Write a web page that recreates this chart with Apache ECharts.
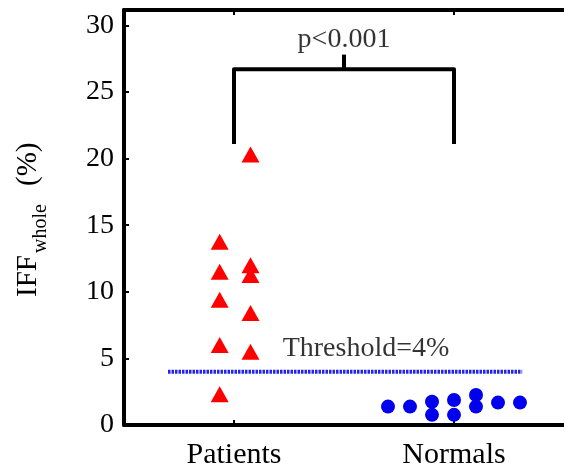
<!DOCTYPE html>
<html>
<head>
<meta charset="utf-8">
<style>
  html, body { margin: 0; padding: 0; background: #fff; }
  #main { width: 564px; height: 470px; }
</style>
<script src="https://cdn.jsdelivr.net/npm/echarts@6/dist/echarts.min.js"></script>
</head>
<body>
<div id="main"></div>
<script>
// groups on the x axis (1 = Patients, 2 = Normals)
var groups = ['Patients', 'Normals'];
var yTicks = [0, 5, 10, 15, 20, 25, 30];

// patients, two jittered columns
var patientsX = [0.935, 0.935, 0.935, 0.935, 0.935, 1.075, 1.075, 1.075, 1.075, 1.075];
var patientsY = [13.75, 11.5, 9.4, 6.0, 2.3, 20.3, 12.0, 11.25, 8.4, 5.5];

// normals
var normalsX = [1.7, 1.8, 1.9, 1.9, 2.0, 2.0, 2.1, 2.1, 2.2, 2.3];
var normalsY = [1.38, 1.38, 1.75, 0.76, 1.88, 0.76, 2.25, 1.38, 1.68, 1.68];

// threshold line (4%)
var thresholdX = [0.7, 2.31];
var thresholdVal = 4;

// significance bracket
var bracketX = [1, 1, 2, 2];
var bracketY = [21.1, 26.7, 26.7, 21.1];
var bracketTickX = [1.5, 1.5];
var bracketTickY = [26.7, 27.8];

var serif = '"Liberation Serif", "Times New Roman", serif';

function zip(xs, ys) {
  return xs.map(function(x, i) { return [x, ys[i]]; });
}

var chart = echarts.init(document.getElementById('main'));

var option = {
  animation: false,
  backgroundColor: '#fff',
  grid: { left: 124, top: 10, width: 448, height: 418 },
  xAxis: [{
    type: 'value',
    min: 0.5,
    max: 2.5,
    position: 'bottom',
    splitLine: { show: false },
    axisLine: { lineStyle: { color: '#000', width: 4 } },
    axisTick: { inside: true, length: 5, lineStyle: { color: '#000', width: 2 }, customValues: [1, 2] },
    axisLabel: {
      customValues: [1, 2],
      formatter: function(v) { return groups[Math.round(v) - 1] || ''; },
      color: '#000',
      fontFamily: serif,
      fontSize: 30,
      margin: 15
    }
  }, {
    type: 'value',
    min: 0.5,
    max: 2.5,
    position: 'top',
    splitLine: { show: false },
    axisLine: { lineStyle: { color: '#000', width: 4 } },
    axisTick: { inside: true, length: 5, lineStyle: { color: '#000', width: 2 }, customValues: [1, 2] },
    axisLabel: { show: false }
  }],
  yAxis: {
    type: 'value',
    min: 0,
    max: 31.15,
    splitLine: { show: false },
    axisLine: { lineStyle: { color: '#000', width: 4 } },
    axisTick: { inside: true, length: 5, lineStyle: { color: '#000', width: 2 }, customValues: yTicks },
    axisLabel: {
      customValues: yTicks,
      color: '#000',
      fontFamily: serif,
      fontSize: 28,
      margin: 10
    }
  },
  // y axis title with subscript
  graphic: [{
    type: 'group',
    x: 28,
    y: 297,
    rotation: Math.PI / 2,
    children: [
      { type: 'text', x: 0, y: 0, style: { text: 'IFF', font: '29px ' + serif, fill: '#000', textVerticalAlign: 'middle' } },
      { type: 'text', x: 44, y: 13, style: { text: 'whole', font: '20px ' + serif, fill: '#000', textVerticalAlign: 'middle' } },
      { type: 'text', x: 111, y: 0, style: { text: '(%)', font: '29px ' + serif, fill: '#000', textVerticalAlign: 'middle' } }
    ]
  }],
  series: [{
    name: 'Threshold',
    type: 'line',
    data: zip(thresholdX, [thresholdVal, thresholdVal]),
    symbol: 'none',
    lineStyle: { color: '#2525e8', width: 4, type: [2.5, 1] },
    z: 1
  }, {
    name: 'Patients',
    type: 'scatter',
    data: zip(patientsX, patientsY),
    symbol: 'triangle',
    symbolSize: [18, 16],
    itemStyle: { color: '#ff0000', opacity: 1 },
    z: 3
  }, {
    name: 'Normals',
    type: 'scatter',
    data: zip(normalsX, normalsY),
    symbol: 'circle',
    symbolSize: 14,
    itemStyle: { color: '#0000ee', opacity: 1 },
    z: 3
  }, {
    name: 'bracket',
    type: 'line',
    data: zip(bracketX, bracketY),
    symbol: 'none',
    lineStyle: { color: '#000', width: 4, join: 'round' },
    z: 2
  }, {
    name: 'bracketTick',
    type: 'line',
    data: zip(bracketTickX, bracketTickY),
    symbol: 'none',
    lineStyle: { color: '#000', width: 4 },
    z: 2
  }, {
    // text annotations
    name: 'notes',
    type: 'scatter',
    symbolSize: 0,
    data: [
      { value: [1.5, 28.9], label: { formatter: 'p<0.001' } },
      { value: [1.6, 5.75], label: { formatter: 'Threshold=4%' } }
    ],
    label: {
      show: true,
      position: 'inside',
      color: '#000',
      fontFamily: serif,
      fontSize: 28
    },
    z: 4
  }]
};

chart.setOption(option);
</script>
</body>
</html>
